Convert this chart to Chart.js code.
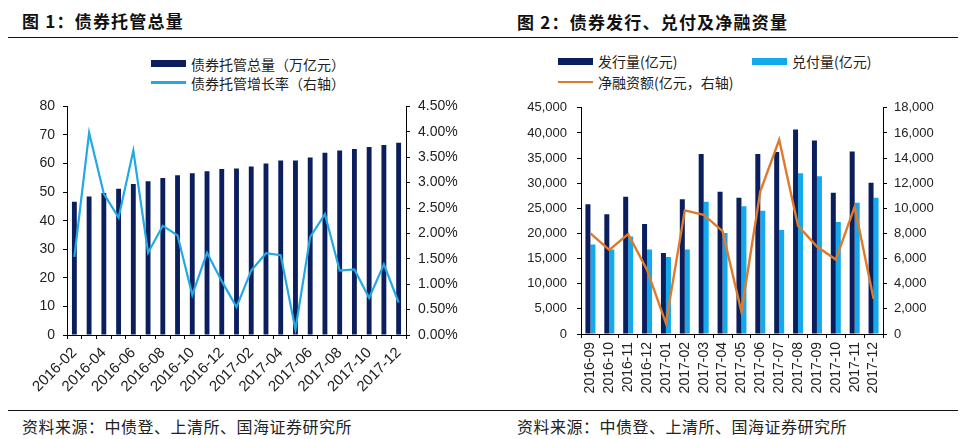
<!DOCTYPE html>
<html>
<head>
<meta charset="utf-8">
<script src="https://cdn.jsdelivr.net/npm/chart.js@4.4.1/dist/chart.umd.min.js"></script>
<style>
  html, body { margin: 0; padding: 0; background: #fff; }
  body { width: 970px; height: 439px; position: relative; overflow: hidden; font-family: "Noto Sans CJK SC", sans-serif; color: #111; }
  .abs { position: absolute; }
  .title { font-weight: bold; font-size: 17px; letter-spacing: 1.2px; line-height: 20px; white-space: nowrap; }
  .rule { position: absolute; left: 8px; width: 950px; height: 1.4px; background: #111; }
  .foot { font-size: 16px; letter-spacing: 0.5px; line-height: 20px; white-space: nowrap; color: #222; }
  .lg { font-size: 14px; line-height: 18px; white-space: nowrap; color: #222; }
  canvas { position: absolute; }
</style>
</head>
<body>
<div class="abs title" style="left:22px;top:11px;">图 1：债券托管总量</div>
<div class="abs title" style="left:517px;top:12px;">图 2：债券发行、兑付及净融资量</div>
<div class="rule" style="top:36.6px;"></div>
<div class="rule" style="top:410px;"></div>
<div class="abs foot" style="left:22px;top:416px;">资料来源：中债登、上清所、国海证券研究所</div>
<div class="abs foot" style="left:517px;top:416px;">资料来源：中债登、上清所、国海证券研究所</div>

<div id="lg1"></div>
<div id="lg2"></div>

<canvas id="c1" width="485" height="310" style="left:0px;top:90px;"></canvas>
<canvas id="c2" width="485" height="320" style="left:485px;top:90px;"></canvas>

<script>
// ---- Chart 1 data ----
const months1 = ['2016-02','2016-03','2016-04','2016-05','2016-06','2016-07','2016-08','2016-09','2016-10','2016-11','2016-12','2017-01','2017-02','2017-03','2017-04','2017-05','2017-06','2017-07','2017-08','2017-09','2017-10','2017-11','2017-12'];
const custody = [46.6,48.5,49.7,51.2,52.8,53.8,54.9,55.9,56.6,57.3,58.1,58.3,59.0,60.0,61.1,61.1,62.1,63.8,64.6,65.1,65.8,66.5,67.3];
const custodyGrowth = [1.54,3.98,2.78,2.31,3.63,1.62,2.15,1.96,0.79,1.62,1.06,0.55,1.27,1.61,1.57,0.11,1.93,2.38,1.27,1.29,0.73,1.39,0.64];
const label1Bar = '债券托管总量（万亿元）';
const label1Line = '债券托管增长率（右轴）';

// ---- Chart 2 data ----
const months2 = ['2016-09','2016-10','2016-11','2016-12','2017-01','2017-02','2017-03','2017-04','2017-05','2017-06','2017-07','2017-08','2017-09','2017-10','2017-11','2017-12'];
const issuance = [25800,23800,27300,21900,16100,26800,35800,28300,27100,35800,36200,40700,38500,28100,36300,30100];
const redemption = [17800,16800,19400,16800,15300,16800,26300,20100,25400,24500,20700,32000,31400,22300,26100,27100];
const netFinancing = [8000,6700,7950,5100,850,9840,9480,8180,1770,11360,15450,8600,6960,5920,10130,2800];
const label2Iss = '发行量(亿元)';
const label2Red = '兑付量(亿元)';
const label2Net = '净融资额(亿元，右轴)';

const NAVY = '#0b1f5e';
const CYAN = '#22a9e4';
const LIGHT = '#14a8ec';
const ORANGE = '#de7a2c';
const TXT = '#222';
const numFont = { family: '"Liberation Sans", Arial, sans-serif', size: 14 };
const numFont15 = { family: '"Liberation Sans", Arial, sans-serif', size: 15 };
const numFont13 = { family: '"Liberation Sans", Arial, sans-serif', size: 13 };

// ---- HTML legends ----
function legendItem(host, x, y, kind, color, text) {
  const sw = document.createElement('div');
  sw.className = 'abs';
  if (kind === 'box') {
    sw.style.cssText = `left:${x}px;top:${y-3.5}px;width:35px;height:7px;background:${color};`;
  } else {
    sw.style.cssText = `left:${x}px;top:${y-1.25}px;width:35px;height:2.5px;background:${color};`;
  }
  host.appendChild(sw);
  const t = document.createElement('div');
  t.className = 'abs lg';
  t.style.left = (x + 40) + 'px';
  t.style.top = (y - 9) + 'px';
  t.textContent = text;
  host.appendChild(t);
}
const lg1 = document.getElementById('lg1');
legendItem(lg1, 151, 63.5, 'box', NAVY, label1Bar);
legendItem(lg1, 151, 82.5, 'line', CYAN, label1Line);
const lg2 = document.getElementById('lg2');
legendItem(lg2, 558, 61, 'box', NAVY, label2Iss);
legendItem(lg2, 752, 61, 'box', LIGHT, label2Red);
legendItem(lg2, 558, 82, 'line', ORANGE, label2Net);

const axisGrid = { display: true, drawOnChartArea: false, drawTicks: true, tickLength: 4, color: '#000', lineWidth: 1 };
const axisBorder = { display: true, color: '#000', width: 1 };

// ---- Chart 1 ----
new Chart(document.getElementById('c1'), {
  data: {
    labels: months1,
    datasets: [
      { type: 'line', label: label1Line, data: custodyGrowth, yAxisID: 'y1', borderColor: CYAN, borderWidth: 2.2, pointRadius: 0, tension: 0, order: 0 },
      { type: 'bar', label: label1Bar, data: custody, yAxisID: 'y', backgroundColor: NAVY, barPercentage: 0.33, categoryPercentage: 1, order: 1 }
    ]
  },
  options: {
    responsive: false, animation: false, devicePixelRatio: 1,
    layout: { padding: { top: 11, left: 0, right: 0, bottom: 0 } },
    plugins: { legend: { display: false }, tooltip: { enabled: false } },
    scales: {
      x: {
        offset: true,
        grid: Object.assign({}, axisGrid, { offset: true }),
        border: axisBorder,
        ticks: {
          autoSkip: false, minRotation: 45, maxRotation: 45, padding: 5, color: TXT, font: numFont15,
          callback: function(v, i) { return i % 2 === 0 ? this.getLabelForValue(v) : ''; }
        },
        afterFit: s => { s.height = 65; }
      },
      y: {
        position: 'left', min: 0, max: 80,
        grid: axisGrid, border: axisBorder,
        ticks: { stepSize: 10, padding: 8, color: TXT, font: numFont },
        afterFit: s => { s.width = 67; }
      },
      y1: {
        position: 'right', min: 0, max: 4.5,
        grid: axisGrid, border: axisBorder,
        ticks: { stepSize: 0.5, padding: 8, color: TXT, font: numFont, callback: v => v.toFixed(2) + '%' },
        afterFit: s => { s.width = 79; }
      }
    }
  }
});

// ---- Chart 2 ----
new Chart(document.getElementById('c2'), {
  data: {
    labels: months2,
    datasets: [
      { type: 'line', label: label2Net, data: netFinancing, yAxisID: 'y1', borderColor: ORANGE, borderWidth: 2.4, pointRadius: 0, tension: 0, order: 0 },
      { type: 'bar', label: label2Iss, data: issuance, yAxisID: 'y', backgroundColor: NAVY, barPercentage: 1, categoryPercentage: 0.53, order: 1 },
      { type: 'bar', label: label2Red, data: redemption, yAxisID: 'y', backgroundColor: LIGHT, barPercentage: 1, categoryPercentage: 0.53, order: 2 }
    ]
  },
  options: {
    responsive: false, animation: false, devicePixelRatio: 1,
    layout: { padding: { top: 14, left: 0, right: 0, bottom: 0 } },
    plugins: { legend: { display: false }, tooltip: { enabled: false } },
    scales: {
      x: {
        offset: true,
        grid: Object.assign({}, axisGrid, { offset: true }),
        border: axisBorder,
        ticks: { autoSkip: false, minRotation: 90, maxRotation: 90, padding: 4, color: TXT, font: numFont },
        afterFit: s => { s.height = 76; }
      },
      y: {
        position: 'left', min: 0, max: 45000,
        grid: axisGrid, border: axisBorder,
        ticks: { stepSize: 5000, padding: 10, color: TXT, font: numFont13, callback: v => v.toLocaleString('en-US') },
        afterFit: s => { s.width = 96; }
      },
      y1: {
        position: 'right', min: 0, max: 18000,
        grid: axisGrid, border: axisBorder,
        ticks: { stepSize: 2000, padding: 7, color: TXT, font: numFont13, callback: v => v.toLocaleString('en-US') },
        afterFit: s => { s.width = 87; }
      }
    }
  }
});
</script>
</body>
</html>
